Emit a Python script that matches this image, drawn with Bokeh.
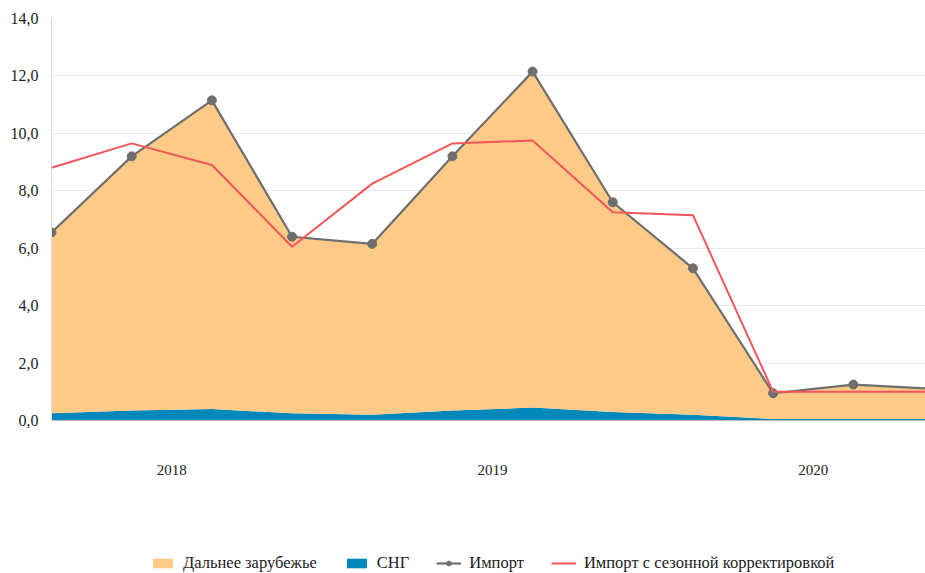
from bokeh.plotting import figure
from bokeh.layouts import column
from bokeh.models import ColumnDataSource, FixedTicker, Legend, LegendItem, Range1d
from bokeh.embed import file_html
from bokeh.resources import INLINE

# Quarters 2018Q1 .. 2020Q4
quarters = ["2018Q1", "2018Q2", "2018Q3", "2018Q4",
            "2019Q1", "2019Q2", "2019Q3", "2019Q4",
            "2020Q1", "2020Q2", "2020Q3", "2020Q4"]
imp = [6.55, 9.2, 11.15, 6.4, 6.15, 9.2, 12.15, 7.6, 5.3, 0.95, 1.25, 1.1]
cis = [0.25, 0.35, 0.4, 0.25, 0.2, 0.35, 0.45, 0.3, 0.2, 0.05, 0.05, 0.05]
far = [6.3, 8.85, 10.75, 6.15, 5.95, 8.85, 11.7, 7.3, 5.1, 0.9, 1.2, 1.05]
sa = [8.8, 9.65, 8.9, 6.05, 8.25, 9.65, 9.75, 7.25, 7.15, 1.0, 1.0, 1.0]
years = ["2018", "2019", "2020"]
year_pos = [1.5, 5.5, 9.5]
y_ticks = [0, 2, 4, 6, 8, 10, 12, 14]

x = list(range(len(quarters)))
src = ColumnDataSource(dict(x=x, cis=cis, far=far, imp=imp, sa=sa))

FONT = "Times New Roman, Liberation Serif, serif"
C_FAR, C_CIS, C_IMP, C_SA = "#FDCA87", "#0088BB", "#6E6E6E", "#F2565B"


def draw(fig):
    a = fig.varea_stack(stackers=["cis", "far"], x="x", source=src,
                        color=[C_CIS, C_FAR])
    l = fig.line("x", "imp", source=src, line_color=C_IMP, line_width=2.2)
    m = fig.scatter("x", "imp", source=src, size=9, fill_color=C_IMP,
                    line_color=C_IMP)
    r = fig.line("x", "sa", source=src, line_color=C_SA, line_width=2)
    return a, l, m, r


p = figure(width=925, height=490, output_backend="svg", toolbar_location=None,
           x_range=Range1d(0, 10.9), y_range=Range1d(0, 14),
           min_border_left=51, min_border_right=0, min_border_top=18,
           min_border_bottom=70)
p.outline_line_color = None
draw(p)

p.yaxis.ticker = FixedTicker(ticks=y_ticks)
p.yaxis.major_label_overrides = {t: f"{t},0" for t in y_ticks}
p.yaxis.major_label_text_font = FONT
p.yaxis.major_label_text_font_size = "16px"
p.yaxis.major_label_text_color = "#222222"
p.yaxis.major_tick_line_color = None
p.yaxis.minor_tick_line_color = None
p.yaxis.axis_line_color = "#DDDDDD"
p.yaxis.major_label_standoff = 7

p.xaxis.ticker = FixedTicker(ticks=year_pos)
p.xaxis.major_label_overrides = {pos: y for pos, y in zip(year_pos, years)}
p.xaxis.major_label_text_font = FONT
p.xaxis.major_label_text_font_size = "15px"
p.xaxis.major_label_text_color = "#222222"
p.xaxis.major_tick_line_color = None
p.xaxis.minor_tick_line_color = None
p.xaxis.axis_line_color = "#BBBBBB"
p.xaxis.major_label_standoff = 38

p.xgrid.grid_line_color = None
p.ygrid.grid_line_color = "#E8E8E8"
p.ygrid.ticker = FixedTicker(ticks=y_ticks)

# legend strip (same series drawn off-view, used only for the legend)
lf = figure(width=925, height=83, output_backend="svg", toolbar_location=None,
            x_range=Range1d(100, 101), y_range=Range1d(100, 101),
            min_border=0, x_axis_location=None, y_axis_location=None)
lf.outline_line_color = None
lf.xgrid.grid_line_color = None
lf.ygrid.grid_line_color = None
la, ll, lm, lr = draw(lf)

legend = Legend(items=[
    LegendItem(label="Дальнее зарубежье", renderers=[la[1]]),
    LegendItem(label="СНГ", renderers=[la[0]]),
    LegendItem(label="Импорт", renderers=[ll, lm]),
    LegendItem(label="Импорт с сезонной корректировкой", renderers=[lr]),
], orientation="horizontal", location=(99, 0), border_line_color=None,
    label_text_font=FONT, label_text_font_size="16.5px", label_text_color="#222222",
    glyph_width=25, glyph_height=12, spacing=27, padding=2, margin=0,
    label_standoff=8, background_fill_alpha=0)
lf.add_layout(legend, "center")

layout = column(p, lf, spacing=0)
open("out.html", "w").write(file_html(layout, INLINE))
